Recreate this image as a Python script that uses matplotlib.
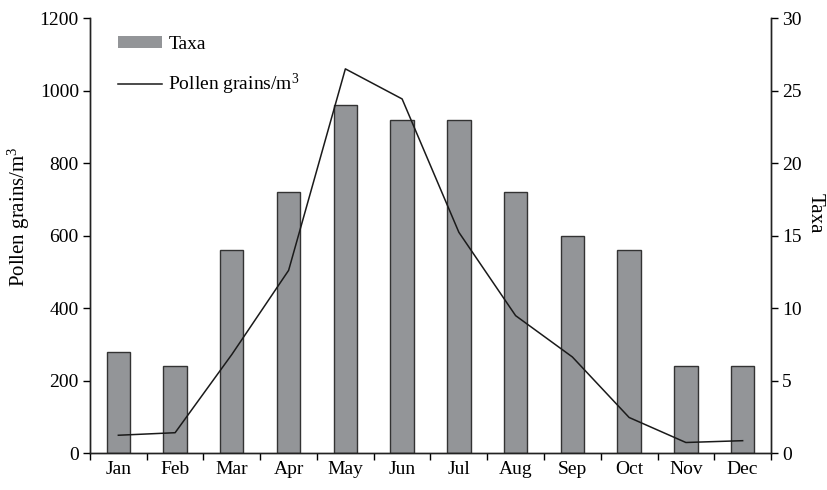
import matplotlib
matplotlib.use("Agg")
import matplotlib.pyplot as plt
import numpy as np
from matplotlib.patches import Patch
from matplotlib.lines import Line2D

months = ["Jan", "Feb", "Mar", "Apr", "May", "Jun", "Jul", "Aug", "Sep", "Oct", "Nov", "Dec"]
taxa = [7, 6, 14, 18, 24, 23, 23, 18, 15, 14, 6, 6]
pollen = [49, 56, 272, 504, 1060, 977, 609, 379, 265, 98, 29, 34]

plt.rcParams['font.family'] = ['Liberation Serif', 'DejaVu Serif']
plt.rcParams['mathtext.fontset'] = 'custom'
plt.rcParams['mathtext.rm'] = 'Liberation Serif'
plt.rcParams['mathtext.it'] = 'Liberation Serif:italic'
plt.rcParams['font.size'] = 14

W, H = 827, 490
fig = plt.figure(figsize=(W / 100, H / 100), dpi=100)
ax = fig.add_axes([0.1088, 0.0755, 0.8235, 0.8875])
ax2 = ax.twinx()

x = np.arange(len(months))
ax2.bar(x, taxa, width=0.41, color='#939598', edgecolor='#333333', linewidth=1.0)
ax.plot(x, pollen, color='#1a1a1a', linewidth=1.1)

ax.set_zorder(ax2.get_zorder() + 1)
ax.patch.set_visible(False)

ax.set_xlim(-0.5, len(months) - 0.5)
ax.set_ylim(0, 1200)
ax2.set_ylim(0, 30)
ax.set_yticks(np.arange(0, 1201, 200))
ax2.set_yticks(np.arange(0, 31, 5))

ax.set_xticks(x)
ax.set_xticklabels(months)
ax.set_xticks(np.arange(-0.5, len(months), 1), minor=True)
ax.tick_params(axis='x', which='major', length=0, pad=6)
ax.tick_params(axis='x', which='minor', length=5, direction='out', width=1)
ax.tick_params(axis='y', length=5, direction='out', width=1, pad=3)
ax2.tick_params(axis='y', length=5, direction='out', width=1, pad=3)

for a in (ax, ax2):
    a.spines['top'].set_visible(False)
    for s in ('left', 'right', 'bottom'):
        a.spines[s].set_linewidth(1.0)
        a.spines[s].set_color('#222222')

fig.text(19 / W, 1 - 217 / H, "Pollen grains/m$^3$", fontsize=15, rotation=90,
         ha='center', va='center', rotation_mode='anchor')
fig.text(815 / W, 1 - 213 / H, "Taxa", fontsize=15, rotation=270,
         ha='center', va='center', rotation_mode='anchor')

handles = [Patch(facecolor='#939598', edgecolor='none'),
           Line2D([0], [0], color='#1a1a1a', linewidth=1.1)]
ax.legend(handles, ["Taxa", "Pollen grains/m$^3$"], loc='upper left',
          bbox_to_anchor=(0.015, 1.0), frameon=False, handlelength=2.3,
          handleheight=0.6, handletextpad=0.3, labelspacing=1.0, fontsize=14)

fig.savefig("out.png", dpi=100)
